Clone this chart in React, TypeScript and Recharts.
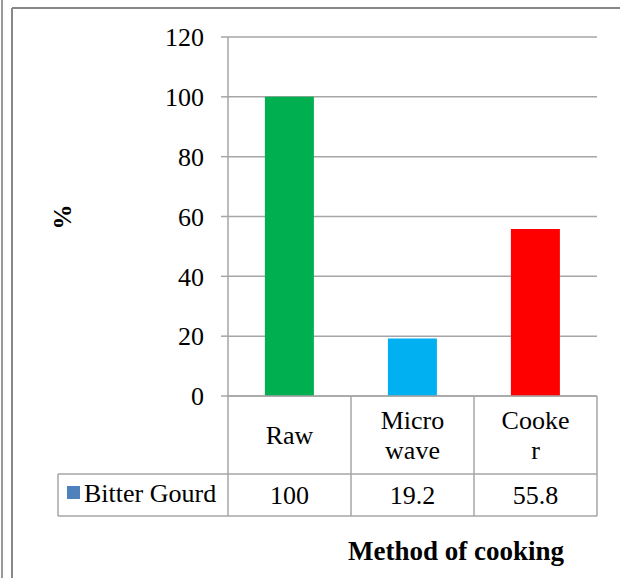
import { BarChart, Bar, Cell, XAxis, YAxis, CartesianGrid } from "recharts";

const categories = ["Raw", "Micro\nwave", "Cooke\nr"];
const bitterGourd = [100, 19.2, 55.8];
const barColors = ["#00B050", "#00B0F0", "#FF0000"];
const yTicks = [0, 20, 40, 60, 80, 100, 120];
const seriesName = "Bitter Gourd";

const data = categories.map((name, i) => ({ name, value: bitterGourd[i] }));

const W = 620;
const H = 578;
const FONT = "'Liberation Serif', 'Times New Roman', serif";
const FS = 26;
const LINE = "#a6a6a6";
const margin = { top: 37, right: 23, bottom: 0, left: 0 };
const yAxisWidth = 228;
const xAxisHeight = 182;
const plotWidth = W - margin.left - margin.right - yAxisWidth;
const cellHalf = plotWidth / categories.length / 2;

// data table drawn under the x axis, one column per tick
function TableTick(props: any) {
    const { x, y, payload, index } = props;
    const lines = String(payload.value).split("\n");
    const rowTop = y + 78;
    const rowBottom = y + 120;
    const left = x - cellHalf;
    const right = x + cellHalf;
    const isLast = index === categories.length - 1;
    return (
        <g>
            <line x1={left} y1={y} x2={left} y2={rowBottom} stroke={LINE} strokeWidth={1.5} />
            {isLast && <line x1={right} y1={y} x2={right} y2={rowBottom} stroke={LINE} strokeWidth={1.5} />}
            <line x1={left} y1={rowTop} x2={right} y2={rowTop} stroke={LINE} strokeWidth={1.5} />
            <line x1={left} y1={rowBottom} x2={right} y2={rowBottom} stroke={LINE} strokeWidth={1.5} />
            {index === 0 && (
                <g>
                    <line x1={58} y1={rowTop} x2={left} y2={rowTop} stroke={LINE} strokeWidth={1.5} />
                    <line x1={58} y1={rowBottom} x2={left} y2={rowBottom} stroke={LINE} strokeWidth={1.5} />
                    <line x1={58} y1={rowTop} x2={58} y2={rowBottom} stroke={LINE} strokeWidth={1.5} />
                    <rect x={67} y={rowTop + 12} width={13} height={13} fill="#4F81BD" />
                    <text x={84} y={rowTop + 19} dominantBaseline="central" fontSize={FS} fontFamily={FONT} fill="#000">
                        {seriesName}
                    </text>
                </g>
            )}
            {lines.map((ln, i) => (
                <text
                    key={i}
                    x={x}
                    y={y + (lines.length === 1 ? 39 : 24 + i * 30)}
                    textAnchor="middle"
                    dominantBaseline="central"
                    fontSize={FS}
                    fontFamily={FONT}
                    fill="#000"
                >
                    {ln}
                </text>
            ))}
            <text x={x} y={rowTop + 21} textAnchor="middle" dominantBaseline="central" fontSize={FS} fontFamily={FONT} fill="#000">
                {bitterGourd[index]}
            </text>
        </g>
    );
}

export default function App() {
    return (
        <div style={{ position: "absolute", left: 0, top: 0, width: W, height: H, background: "#fff" }}>
            <svg width={W} height={H} style={{ position: "absolute", left: 0, top: 0 }}>
                <line x1={2} y1={0} x2={2} y2={H} stroke="#999" strokeWidth={2} />
                <line x1={12} y1={8} x2={12} y2={H} stroke="#888" strokeWidth={2} />
                <line x1={12} y1={8} x2={W} y2={8} stroke="#888" strokeWidth={2} />
                <text
                    x={62}
                    y={217}
                    transform="rotate(-90 62 217)"
                    textAnchor="middle"
                    dominantBaseline="central"
                    fontSize={25}
                    fontWeight="bold"
                    fontFamily={FONT}
                >
                    %
                </text>
                <text x={456} y={551} textAnchor="middle" dominantBaseline="central" fontSize={27} fontWeight="bold" fontFamily={FONT}>
                    Method of cooking
                </text>
            </svg>
            <div style={{ position: "absolute", left: 0, top: 0 }}>
                <BarChart width={W} height={H} data={data} margin={margin} barCategoryGap="30%">
                    <CartesianGrid vertical={false} stroke={LINE} strokeWidth={1.5} />
                    <YAxis
                        width={yAxisWidth}
                        domain={[0, 120]}
                        ticks={yTicks}
                        interval={0}
                        tickSize={7}
                        tickMargin={17}
                        axisLine={{ stroke: LINE, strokeWidth: 1.5 }}
                        tickLine={{ stroke: LINE, strokeWidth: 1.5 }}
                        tick={{ fontSize: FS, fontFamily: FONT, fill: "#000" }}
                    />
                    <XAxis
                        dataKey="name"
                        height={xAxisHeight}
                        interval={0}
                        tickSize={0}
                        tickMargin={0}
                        tickLine={false}
                        axisLine={{ stroke: LINE, strokeWidth: 1.5 }}
                        tick={<TableTick />}
                    />
                    <Bar dataKey="value" isAnimationActive={false}>
                        {data.map((d, i) => (
                            <Cell key={d.name} fill={barColors[i]} />
                        ))}
                    </Bar>
                </BarChart>
            </div>
        </div>
    );
}
